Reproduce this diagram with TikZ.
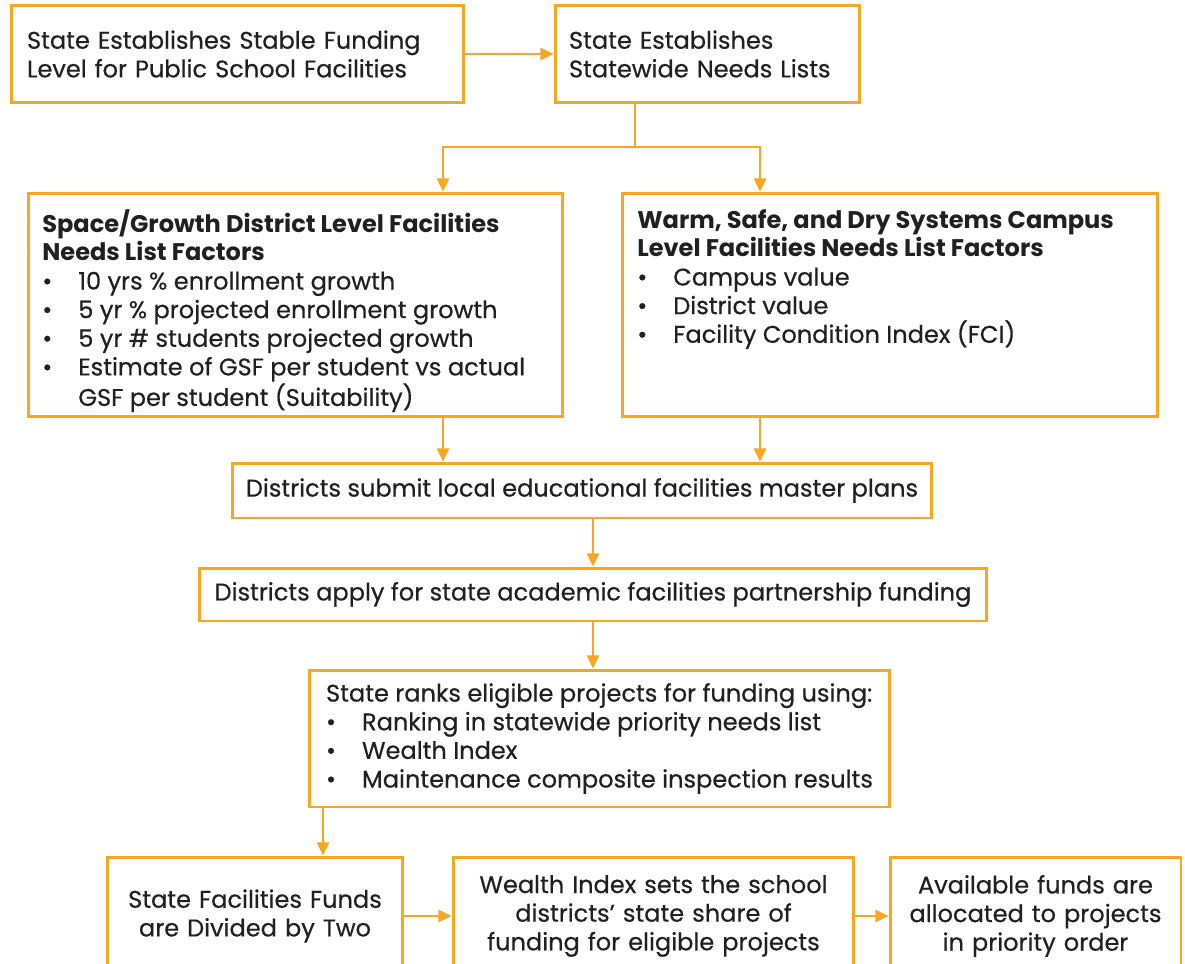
\documentclass[tikz,border=0pt]{standalone}
\usepackage{fontspec}
\setmainfont{Poppins}[UprightFeatures = {FakeBold = 0.5}]
\usetikzlibrary{arrows.meta}

\definecolor{flowOrange}{RGB}{247,167,33}
\definecolor{flowText}{RGB}{35,31,32}

\newcommand{\bul}[1]{\makebox[0.72cm][l]{\textbullet}#1}

\tikzset{
	box/.style = {draw = flowOrange, line width = 1.7pt, inner sep = 0pt, text = flowText},
	flow/.style = {draw = flowOrange, line width = 1.1pt, -{Triangle[length = 7.5pt, width = 7pt]}},
	link/.style = {draw = flowOrange, line width = 1.1pt}
}

\begin{document}
\begin{tikzpicture}[x = 0.02cm, y = -0.02cm, font = \fontsize{13.7}{16.3}\selectfont]
	\useasboundingbox (0,0) rectangle (1185,963);
	\clip (0,0) rectangle (1185,963);

	\path (443,0) coordinate (colL) (760,0) coordinate (colR) (593,0) coordinate (colM) (323,0) coordinate (colG);

	\node [box, minimum width = 9.06cm, minimum height = 1.96cm, text width = 8.42cm, align = left] (stable) at (237.5,54) {State Establishes Stable Funding\\Level for Public School Facilities};
	\node [box, minimum width = 6.1cm, minimum height = 1.96cm, text width = 5.54cm, align = left] (needs) at (707.5,54) {State Establishes\\Statewide Needs Lists};

	\node [box, minimum width = 10.7cm, minimum height = 4.48cm] (space) at (295.5,305) {};
	\node [anchor = north west, inner sep = 0pt, align = left, text = flowText] (spaceText) at (42,209) {\textbf{Space/Growth District Level Facilities}\\\textbf{Needs List Factors}\\\bul{10 yrs \% enrollment growth}\\\bul{5 yr \% projected enrollment growth}\\\bul{5 yr \# students projected growth}\\\bul{Estimate of GSF per student vs actual}\\\hspace*{0.72cm}GSF per student (Suitability)};

	\node [box, minimum width = 10.72cm, minimum height = 4.48cm] (warm) at (890,305) {};
	\node [anchor = north west, inner sep = 0pt, align = left, text = flowText] (warmText) at (637,209) {\textbf{Warm, Safe, and Dry Systems Campus}\\\textbf{Level Facilities Needs List Factors}\\\bul{Campus value}\\\bul{District value}\\\bul{Facility Condition Index (FCI)}};

	\node [box, minimum width = 14cm, minimum height = 1.1cm] (submit) at (582,490.5) {Districts submit local educational facilities master plans};
	\node [box, minimum width = 15.76cm, minimum height = 1.06cm] (apply) at (593,594.5) {Districts apply for state academic facilities partnership funding};

	\node [box, minimum width = 11.62cm, minimum height = 2.74cm, align = left] (rank) at (599.5,738.5) {State ranks eligible projects for funding using:\\\bul{Ranking in statewide priority needs list}\\\bul{Wealth Index}\\\bul{Maintenance composite inspection results}};

	% bottom row runs off the page
	\node [box, minimum width = 5.92cm, minimum height = 2.36cm, text width = 5.4cm, align = center] (divide) at (255,916) {State Facilities Funds\\are Divided by Two};
	\node [box, minimum width = 8.02cm, minimum height = 2.36cm, text width = 7.6cm, align = center] (wealth) at (653.5,916) {Wealth Index sets the school\\districts' state share of\\funding for eligible projects};
	\node [box, minimum width = 5.82cm, minimum height = 2.36cm, text width = 5.5cm, align = center] (alloc) at (1035.5,916) {Available funds are\\allocated to projects\\in priority order};

	\coordinate (split) at (635,147);
	\draw [flow] (stable) -- (needs);
	\draw [link] (needs.south -| split) -- (split);
	\draw [flow] (split) -| (space.north -| colL);
	\draw [flow] (split) -| (warm.north -| colR);
	\draw [flow] (space.south -| colL) -- (submit.north -| colL);
	\draw [flow] (warm.south -| colR) -- (submit.north -| colR);
	\draw [flow] (submit.south -| colM) -- (apply.north -| colM);
	\draw [flow] (apply.south -| colM) -- (rank.north -| colM);
	\draw [flow] (rank.south -| colG) -- (divide.north -| colG);
	\draw [flow] (divide) -- (wealth);
	\draw [flow] (wealth) -- (alloc);
\end{tikzpicture}
\end{document}
